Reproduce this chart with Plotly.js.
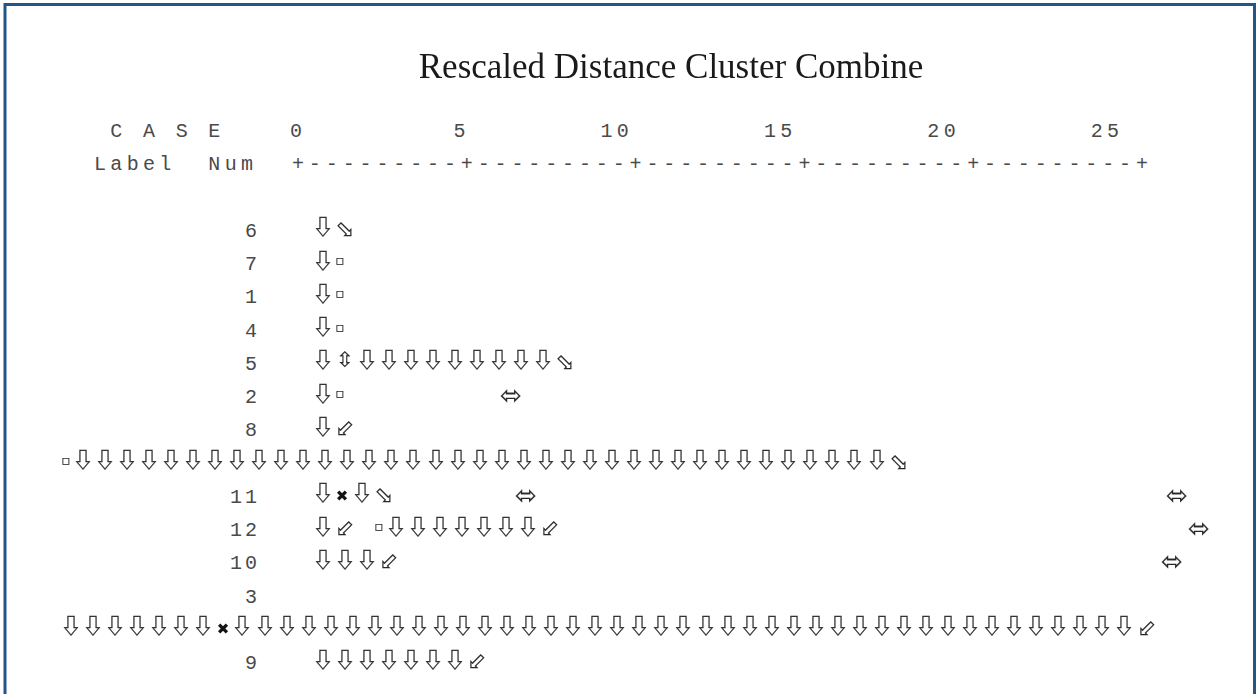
<!DOCTYPE html>
<html><head><meta charset="utf-8">
<script src="https://cdn.plot.ly/plotly-3.0.1.min.js"></script>
<style>html,body{margin:0;padding:0;background:#fff;overflow:hidden}#chart{width:1258px;height:694px}
#chart .scatterlayer .trace:nth-child(2) text{stroke:#262626;stroke-width:0.35px;paint-order:stroke}
#chart .scatterlayer .trace:nth-child(3) text{stroke:#262626;stroke-width:0.1px;paint-order:stroke}
</style>
</head><body><div id="chart"></div>
<script>
// ---------- data ----------
const chartTitle = 'Rescaled Distance Cluster Combine';
const headerCase = 'C A S E';
const headerLabel = 'Label';
const headerNum = 'Num';
const distanceTicks = [0, 5, 10, 15, 20, 25];
const caseNumbers = ['6', '7', '1', '4', '5', '2', '8', '', '11', '12', '10', '3', '', '9'];
const wrappedRow  = [false, false, false, false, false, false, false, true, false, false, false, false, true, false];
const treeRows = [
  '⇩⬂',
  '⇩▫',
  '⇩▫',
  '⇩▫',
  '⇩⇳⇩⇩⇩⇩⇩⇩⇩⇩⇩⬂',
  '⇩▫         ⬄',
  '⇩⬃',
  '▫⇩⇩⇩⇩⇩⇩⇩⇩⇩⇩⇩⇩⇩⇩⇩⇩⇩⇩⇩⇩⇩⇩⇩⇩⇩⇩⇩⇩⇩⇩⇩⇩⇩⇩⇩⇩⇩⬂',
  '⇩✖⇩⬂       ⬄                                     ⬄',
  '⇩⬃ ▫⇩⇩⇩⇩⇩⇩⇩⬃                                     ⬄',
  '⇩⇩⇩⬃                                             ⬄',
  '',
  '⇩⇩⇩⇩⇩⇩⇩✖⇩⇩⇩⇩⇩⇩⇩⇩⇩⇩⇩⇩⇩⇩⇩⇩⇩⇩⇩⇩⇩⇩⇩⇩⇩⇩⇩⇩⇩⇩⇩⇩⇩⇩⇩⇩⇩⇩⇩⇩⇩⬃',
  '⇩⇩⇩⇩⇩⇩⇩⬃'
];

// ---------- layout constants (styles) ----------
const W = 1258, H = 694;
const LINE0_Y = 132, LINE_H = 33.25;
const HX0 = 100, HP = 16.34;
const RX0 = 298, RULER_UNIT = 33.76, RULER_CH = 16.88;
const NUM_RIGHT = 251, NUM_PITCH = 15;
const TREE_X = 311.5, WRAP_X = 59.5;
const ADV = {'⇩':22.05,'⇳':22.05,'⬂':22.05,'⬃':22.05,'⬄':26,'▫':12.2,'✖':17.6,' ':16.88};
const GSIZE = {'⇩':21,'⇳':21,'⬂':23,'⬃':23,'⬄':26,'▫':14,'✖':15};
const GDY = {'⇩':-0.08,'⇳':-0.08,'⬂':-0.02,'⬃':-0.02,'⬄':-0.02,'▫':-0.1,'✖':-0.02};
const CJK_GLYPHS = '⇩';
const MONO = 'Liberation Mono, DejaVu Sans Mono, monospace';
const SYM = 'DejaVu Sans, Noto Sans, sans-serif';
const CJK = 'Noto Sans CJK SC, DejaVu Sans, sans-serif';
const TXT = '#4a4a4a';
const INK = '#262626';

// ---------- build text marks ----------
const mono = {x: [], y: [], t: []};
function putMono(str, col0, line, x0, pitch) {
  Array.from(str).forEach((ch, i) => {
    if (ch !== ' ') { mono.x.push(x0 + (col0 + i) * pitch); mono.y.push(line); mono.t.push(ch); }
  });
}
putMono(headerCase, 1, 0, HX0, HP);
distanceTicks.forEach(v => {
  const s = String(v);
  putMono(s, 12 + 2 * v - (s.length - 1), 0, HX0, HP);
});
putMono(headerLabel, 0, 1, HX0, HP);
putMono(headerNum, 7, 1, HX0, HP);
distanceTicks.forEach((v, k) => {
  const px = RX0 + v * RULER_UNIT;
  mono.x.push(px); mono.y.push(1); mono.t.push('+');
  if (k < distanceTicks.length - 1) {
    for (let j = 1; j <= 9; j++) { mono.x.push(px + j * RULER_CH); mono.y.push(1); mono.t.push('-'); }
  }
});
caseNumbers.forEach((s, r) => {
  const chars = Array.from(s);
  chars.forEach((ch, i) => {
    mono.x.push(NUM_RIGHT - (chars.length - 1 - i) * NUM_PITCH);
    mono.y.push(r + 3); mono.t.push(ch);
  });
});

const arrows = {x: [], y: [], t: [], s: []};
const other = {x: [], y: [], t: [], s: [], c: []};
treeRows.forEach((row, r) => {
  let x = wrappedRow[r] ? WRAP_X : TREE_X;
  Array.from(row).forEach(ch => {
    const a = ADV[ch] || 16.88;
    if (ch !== ' ') {
      const g = CJK_GLYPHS.includes(ch) ? arrows : other;
      g.x.push(Math.round(x + a / 2)); g.y.push(r + 3 + (GDY[ch] || 0)); g.t.push(ch); g.s.push(GSIZE[ch] || 18);
      if (g.c) g.c.push(ch === '✖' ? '#111' : INK);
    }
    x += a;
  });
});

const base = {type: 'scatter', mode: 'text', textposition: 'middle center', hoverinfo: 'skip', showlegend: false, cliponaxis: false};
const traces = [
  Object.assign({}, base, {x: mono.x, y: mono.y, text: mono.t, textfont: {family: MONO, size: 20, color: TXT}}),
  Object.assign({}, base, {x: arrows.x, y: arrows.y, text: arrows.t, opacity: 0.99, textfont: {family: CJK, size: arrows.s, color: INK}}),
  Object.assign({}, base, {x: other.x, y: other.y, text: other.t, opacity: 0.99, textfont: {family: SYM, size: other.s, color: other.c}})
];

const layout = {
  width: W, height: H,
  margin: {l: 0, r: 0, t: 0, b: 0, pad: 0},
  paper_bgcolor: '#fff', plot_bgcolor: '#fff',
  title: {text: chartTitle, font: {family: 'Liberation Serif, Times New Roman, serif', size: 35, color: '#1a1a1a'},
          x: 671 / W, xanchor: 'center', xref: 'container', y: 1 - 66 / H, yanchor: 'middle', yref: 'container'},
  xaxis: {range: [0, W], visible: false, fixedrange: true},
  yaxis: {range: [(H - LINE0_Y) / LINE_H, -LINE0_Y / LINE_H], visible: false, fixedrange: true},
  showlegend: false, hovermode: false,
  shapes: [{type: 'rect', xref: 'paper', yref: 'paper', x0: 5 / W, x1: 1 - 3.5 / W, y0: -0.05, y1: 1 - 4.5 / H,
            line: {color: '#22568a', width: 3}, fillcolor: 'rgba(0,0,0,0)'}]
};

Plotly.newPlot('chart', traces, layout, {displayModeBar: false, staticPlot: true});
</script></body></html>
